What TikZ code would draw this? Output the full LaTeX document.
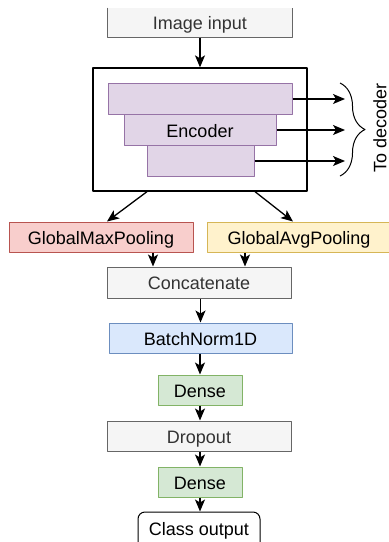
\documentclass[tikz,border=0pt]{standalone}
\usepackage{fontspec}
\setmainfont{Liberation Sans}
\usetikzlibrary{arrows.meta,calc,decorations.pathreplacing}
\definecolor{grayfill}{HTML}{F5F5F5}
\definecolor{grayline}{HTML}{666666}
\definecolor{graytext}{HTML}{333333}
\definecolor{redfill}{HTML}{F8CECC}
\definecolor{redline}{HTML}{B85450}
\definecolor{yelfill}{HTML}{FFF2CC}
\definecolor{yelline}{HTML}{D6B656}
\definecolor{bluefill}{HTML}{DAE8FC}
\definecolor{blueline}{HTML}{6C8EBF}
\definecolor{greenfill}{HTML}{D5E8D4}
\definecolor{greenline}{HTML}{82B366}
\definecolor{purpfill}{HTML}{E1D5E7}
\definecolor{purpline}{HTML}{9673A6}

\begin{document}
\begin{tikzpicture}[x=1pt,y=-1pt,line join=round,>={Stealth[length=12pt,width=10pt,inset=3pt]},
	box/.style={rectangle,inner sep=0pt,line width=1pt,minimum height=30pt,text height=14pt,text depth=0pt,font=\fontsize{18}{21}\selectfont},
	graybox/.style={box,fill=grayfill,draw=grayline,text=graytext},
	redbox/.style={box,fill=redfill,draw=redline},
	yelbox/.style={box,fill=yelfill,draw=yelline},
	bluebox/.style={box,fill=bluefill,draw=blueline},
	greenbox/.style={box,fill=greenfill,draw=greenline,minimum width=84pt},
	layer/.style={box,fill=purpfill,draw=purpline},
	arr/.style={->,line width=1.3pt}]
	\useasboundingbox (0,0) rectangle (389,542);
	% input (top edge cut off)
	\node[graybox,draw=none,minimum width=184pt,minimum height=29pt] (input) at (200,22.5) {Image input};
	\draw[grayline,line width=1pt] (input.north west) |- (input.south east) -- (input.north east);
	% encoder block
	\node[box,draw,line width=1.3pt,minimum width=214pt,minimum height=123pt] (enc) at (200,129.5) {};
	\node[layer,minimum width=184pt,minimum height=31pt] (lay1) at (200,99) {};
	\node[layer,minimum width=152pt,minimum height=31pt] (lay2) at (200,130) {Encoder};
	\node[layer,minimum width=107pt,minimum height=31pt] (lay3) at (200.5,161) {};
	\coordinate (decin) at (345,128);
	\foreach \l in {lay1,lay2,lay3}
		\draw[arr] (\l.east) -- (\l.east -| decin);
	\draw[decorate,decoration={brace,amplitude=25pt},line width=1pt] (340,83) -- (340,176);
	\node[rotate=90,inner sep=0pt,font=\fontsize{18}{21}\selectfont] (todec) at (380,128) {To decoder};
	% head
	\node[redbox,minimum width=184pt] (maxpool) at (101,237) {GlobalMaxPooling};
	\node[yelbox,minimum width=184pt] (avgpool) at (299,237) {GlobalAvgPooling};
	\node[graybox,minimum width=184pt,minimum height=31pt] (concat) at (199,282.5) {Concatenate};
	\node[bluebox,minimum width=183pt] (bnorm) at (200.5,338) {BatchNorm1D};
	\node[greenbox] (dense1) at (200,390) {Dense};
	\node[graybox,minimum width=184pt] (dropout) at (199,436) {Dropout};
	\node[greenbox] (dense2) at (200,482) {Dense};
	\node[box,draw,fill=white,rounded corners=7pt,minimum width=122pt,minimum height=48pt,text height=13pt,text depth=15pt] (output) at (199,536) {Class output};
	\coordinate (c1) at ($(concat.north)+(-46,0)$);
	\coordinate (c2) at ($(concat.north)+(46,0)$);
	% connectors
	\draw[arr] (input.south) -- (enc.north);
	\draw[arr] ($(enc.south)+(-53,0)$) -- ($(maxpool.north)+(6,0)$);
	\draw[arr] ($(enc.south)+(55,0)$) -- ($(avgpool.north)+(-6,0)$);
	\draw[arr] (maxpool.south -| c1) -- (c1);
	\draw[arr] (avgpool.south -| c2) -- (c2);
	\draw[arr] (concat.south -| bnorm) -- (bnorm.north);
	\draw[arr] (bnorm.south -| dense1) -- (dense1.north);
	\draw[arr] (dense1.south) -- (dense1.south |- dropout.north);
	\draw[arr] (dropout.south -| dense2) -- (dense2.north);
	\draw[arr] (dense2.south) -- (dense2.south |- output.north);
\end{tikzpicture}
\end{document}
